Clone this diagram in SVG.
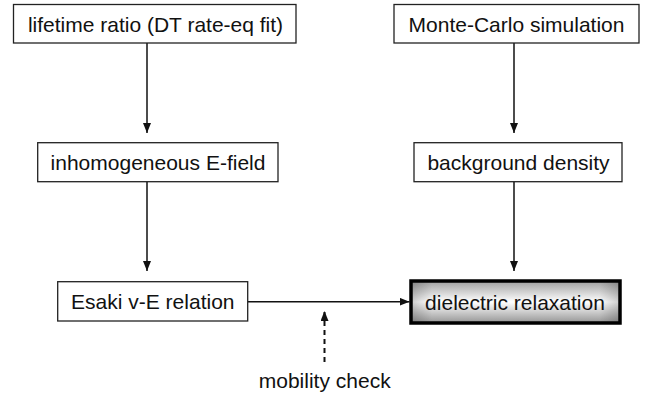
<svg xmlns="http://www.w3.org/2000/svg" width="650" height="396" viewBox="0 0 650 396">
<defs>
<style>
.box{fill:#fff;stroke:#222;stroke-width:1.3}
.lbl{font-family:"Liberation Sans",Arial,sans-serif;font-size:21px;fill:#111;text-anchor:middle}
.conn{stroke:#111;stroke-width:1.5;fill:none}
.dash{stroke-dasharray:5 4;stroke-width:2}
</style>
<marker id="ah" markerUnits="userSpaceOnUse" markerWidth="12" markerHeight="10" refX="10" refY="4" orient="auto">
<path d="M0,0 L10,4 L0,8 Z" fill="#111"/>
</marker>
<linearGradient id="gv" x1="0" y1="0" x2="0" y2="1">
<stop offset="0" stop-color="#a0a0a0"/>
<stop offset="0.5" stop-color="#fff"/>
<stop offset="1" stop-color="#959595"/>
</linearGradient>
<linearGradient id="gh" x1="0" y1="0" x2="1" y2="0">
<stop offset="0" stop-color="#000" stop-opacity="0.2"/>
<stop offset="0.1" stop-color="#000" stop-opacity="0"/>
<stop offset="0.9" stop-color="#000" stop-opacity="0"/>
<stop offset="1" stop-color="#000" stop-opacity="0.2"/>
</linearGradient>
</defs>
<rect width="650" height="396" fill="#fff"/>
<g id="connectors">
<line class="conn" x1="147" y1="43" x2="147" y2="133" marker-end="url(#ah)"/>
<line class="conn" x1="147" y1="182" x2="147" y2="271" marker-end="url(#ah)"/>
<line class="conn" x1="514" y1="43" x2="514" y2="133" marker-end="url(#ah)"/>
<line class="conn" x1="514" y1="182" x2="514" y2="271" marker-end="url(#ah)"/>
<line class="conn" x1="248" y1="301.7" x2="409.5" y2="301.7" marker-end="url(#ah)"/>
<line class="conn dash" x1="324.5" y1="362" x2="324.5" y2="311" marker-end="url(#ah)"/>
</g>
<g id="lifetime">
<rect class="box" x="13.5" y="4.5" width="282.5" height="38.5"/>
<text class="lbl" x="155.5" y="32">lifetime ratio (DT rate-eq fit)</text>
</g>
<g id="montecarlo">
<rect class="box" x="394" y="4.5" width="245" height="38.5"/>
<text class="lbl" x="516.5" y="32">Monte-Carlo simulation</text>
</g>
<g id="efield">
<rect class="box" x="37.7" y="142.7" width="240.3" height="39"/>
<text class="lbl" x="158" y="169.5">inhomogeneous E-field</text>
</g>
<g id="background">
<rect class="box" x="414" y="142.7" width="208" height="39"/>
<text class="lbl" x="518.5" y="169.5">background density</text>
</g>
<g id="esaki">
<rect class="box" x="57.7" y="281.7" width="190" height="39.3"/>
<text class="lbl" x="152.8" y="309">Esaki v-E relation</text>
</g>
<g id="dielectric">
<rect x="411" y="281" width="209" height="42" fill="url(#gv)"/>
<rect x="411" y="281" width="209" height="42" fill="url(#gh)"/>
<rect x="411" y="281" width="209" height="42" fill="none" stroke="#000" stroke-width="3.5"/>
<text class="lbl" x="515" y="310">dielectric relaxation</text>
</g>
<g id="mobility">
<text class="lbl" x="324.7" y="387.5">mobility check</text>
</g>
</svg>
